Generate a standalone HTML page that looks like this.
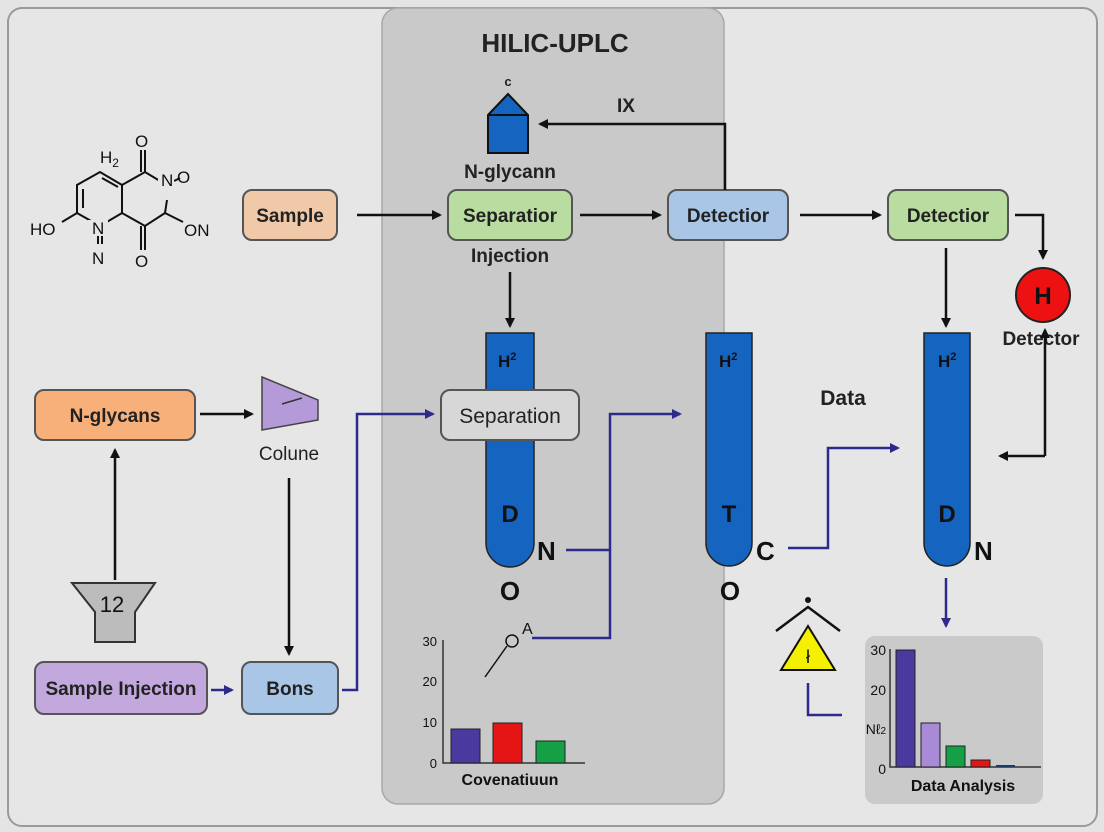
<!DOCTYPE html>
<html><head><meta charset="utf-8"><style>
html,body{margin:0;padding:0;background:#e6e6e6;}
svg{display:block;font-family:"Liberation Sans",sans-serif;}
</style></head><body>
<svg width="1104" height="832" viewBox="0 0 1104 832" xmlns="http://www.w3.org/2000/svg">
<defs>
<marker id="ak" markerWidth="10" markerHeight="10" refX="8" refY="5" orient="auto" markerUnits="userSpaceOnUse"><path d="M0,0 L10,5 L0,10 z" fill="#111"/></marker>
<marker id="ab" markerWidth="10" markerHeight="10" refX="8" refY="5" orient="auto" markerUnits="userSpaceOnUse"><path d="M0,0 L10,5 L0,10 z" fill="#2e2a8c"/></marker>
</defs>
<rect x="0" y="0" width="1104" height="832" fill="#e4e4e4"/>
<rect x="8" y="8" width="1089" height="818" rx="14" fill="#e6e6e6" stroke="#9a9a9a" stroke-width="2"/>
<rect x="382" y="8" width="342" height="796" rx="16" fill="#c9c9c9" stroke="#a8a8a8" stroke-width="1.5"/>
<text x="555" y="52" font-size="26" font-weight="bold" text-anchor="middle" fill="#222">HILIC-UPLC</text>

<!-- molecule -->
<g stroke="#111" stroke-width="2" fill="none">
<path d="M77,213 L77,185 L100,172 L122,185 L122,213 L100,226 Z"/>
<path d="M83,208 L83,189 M102,178 L118,187"/>
<path d="M122,185 L145,172 L160,181 M167,200 L165,213 L145,226 L122,213"/>
<path d="M145,172 L145,150 M141,172 L141,150"/>
<path d="M145,226 L145,250 M141,226 L141,250"/>
<path d="M165,213 L183,222 M77,213 L62,222"/>
<path d="M98,236 L98,244 M102,236 L102,244"/>
<path d="M174,181 L180,178"/>
</g>
<g font-size="17" fill="#111">
<text x="100" y="163">H<tspan font-size="12" dy="4">2</tspan></text>
<text x="135" y="147">O</text>
<rect x="88" y="220" width="20" height="16" fill="#e6e6e6"/>
<rect x="158" y="173" width="16" height="16" fill="#e6e6e6"/>
<text x="161" y="186">N</text>
<text x="177" y="183">O</text>
<text x="30" y="235">HO</text>
<text x="92" y="234">N</text>
<text x="92" y="264">N</text>
<text x="135" y="267">O</text>
<text x="184" y="236">ON</text>
</g>

<!-- boxes -->
<g stroke="#555" stroke-width="2">
<rect x="243" y="190" width="94" height="50" rx="9" fill="#f0c9a8"/>
<rect x="448" y="190" width="124" height="50" rx="9" fill="#b9dca0"/>
<rect x="668" y="190" width="120" height="50" rx="9" fill="#a9c6e6"/>
<rect x="888" y="190" width="120" height="50" rx="9" fill="#b9dca0"/>
<rect x="35" y="390" width="160" height="50" rx="9" fill="#f7b07a"/>
<rect x="35" y="662" width="172" height="52" rx="9" fill="#c3a8de"/>
<rect x="242" y="662" width="96" height="52" rx="9" fill="#a9c6e6"/>
</g>
<g font-size="19" font-weight="bold" fill="#222" text-anchor="middle">
<text x="290" y="222">Sample</text>
<text x="510" y="222">Separatior</text>
<text x="728" y="222">Detectior</text>
<text x="948" y="222">Detectior</text>
<text x="115" y="422">N-glycans</text>
<text x="121" y="695">Sample Injection</text>
<text x="290" y="695">Bons</text>
<text x="510" y="262">Injection</text>
<text x="510" y="178">N-glycann</text>
<text x="626" y="112">IX</text>
<text x="508" y="86" font-size="13">c</text>
<text x="843" y="405" font-size="21">Data</text>
<text x="1041" y="345">Detector</text>
<text x="289" y="460" font-weight="normal">Colune</text>
</g>

<!-- house shape -->
<path d="M488,115 L508,94 L528,115 L528,153 L488,153 Z" fill="#1565c0" stroke="#111" stroke-width="2"/>
<path d="M488,115 L528,115" stroke="#111" stroke-width="2"/>

<!-- tubes -->
<g stroke="#222" stroke-width="1.5" fill="#1565c0">
<path d="M486,333 L534,333 L534,543 A24,24 0 0 1 486,543 Z"/>
<path d="M706,333 L752,333 L752,543 A23,23 0 0 1 706,543 Z"/>
<path d="M924,333 L970,333 L970,543 A23,23 0 0 1 924,543 Z"/>
</g>
<rect x="441" y="390" width="138" height="50" rx="9" fill="#d7d7d7" stroke="#555" stroke-width="2"/>
<text x="510" y="423" font-size="21" text-anchor="middle" fill="#222">Separation</text>
<g font-weight="bold" fill="#111">
<text x="498" y="367" font-size="17">H<tspan font-size="11" dy="-7">2</tspan></text>
<text x="719" y="367" font-size="17">H<tspan font-size="11" dy="-7">2</tspan></text>
<text x="938" y="367" font-size="17">H<tspan font-size="11" dy="-7">2</tspan></text>
<text x="510" y="522" font-size="24" text-anchor="middle">D</text>
<text x="729" y="522" font-size="24" text-anchor="middle">T</text>
<text x="947" y="522" font-size="24" text-anchor="middle">D</text>
<text x="537" y="560" font-size="26">N</text>
<text x="756" y="560" font-size="26">C</text>
<text x="974" y="560" font-size="26">N</text>
<text x="510" y="600" font-size="26" text-anchor="middle">O</text>
<text x="730" y="600" font-size="26" text-anchor="middle">O</text>
</g>

<!-- red circle -->
<circle cx="1043" cy="295" r="27" fill="#ee1111" stroke="#222" stroke-width="2"/>
<text x="1043" y="304" font-size="24" font-weight="bold" text-anchor="middle" fill="#111">H</text>

<!-- wedge -->
<path d="M262,377 L318,400 L318,420 L262,430 Z" fill="#b49ad8" stroke="#444" stroke-width="1.5"/>
<path d="M282,404 L302,398" stroke="#333" stroke-width="1.5"/>
<!-- funnel -->
<path d="M72,583 L155,583 L135,612 L135,642 L95,642 L95,612 Z" fill="#bcbcbc" stroke="#333" stroke-width="2"/>
<text x="112" y="612" font-size="22" text-anchor="middle" fill="#111">12</text>

<!-- black arrows -->
<g stroke="#111" stroke-width="2.5" fill="none" marker-end="url(#ak)">
<path d="M357,215 L440,215"/>
<path d="M580,215 L660,215"/>
<path d="M800,215 L880,215"/>
<path d="M725,190 L725,124 L540,124"/>
<path d="M1015,215 L1043,215 L1043,258"/>
<path d="M510,272 L510,326"/>
<path d="M946,248 L946,326"/>
<path d="M200,414 L252,414"/>
<path d="M115,580 L115,450"/>
<path d="M289,478 L289,654"/>
<path d="M1045,456 L1045,330"/>
<path d="M1045,456 L1000,456"/>
</g>
<!-- blue arrows -->
<g stroke="#2e2a8c" stroke-width="2.5" fill="none">
<path d="M342,690 L357,690 L357,414 L433,414" marker-end="url(#ab)"/>
<path d="M566,550 L610,550 L610,414 L680,414" marker-end="url(#ab)"/>
<path d="M532,638 L610,638 L610,550"/>
<path d="M788,548 L828,548 L828,448 L898,448" marker-end="url(#ab)"/>
<path d="M211,690 L232,690" marker-end="url(#ab)"/>
<path d="M946,578 L946,626" marker-end="url(#ab)"/>
<path d="M808,683 L808,715 L842,715"/>
</g>
<!-- small pin -->
<circle cx="512" cy="641" r="6" fill="none" stroke="#111" stroke-width="1.5"/>
<path d="M507,646 L485,677" stroke="#111" stroke-width="1.5"/>
<text x="522" y="634" font-size="16" fill="#111">A</text>

<!-- warning -->
<circle cx="808" cy="600" r="3" fill="#111"/>
<path d="M776,631 L808,607 L840,631" stroke="#111" stroke-width="2.5" fill="none"/>
<path d="M808,626 L835,670 L781,670 Z" fill="#f4f000" stroke="#111" stroke-width="2"/>
<text x="808" y="663" font-size="18" text-anchor="middle" fill="#111">ł</text>

<!-- center chart -->
<g font-size="13" fill="#111" text-anchor="end">
<text x="437" y="646">30</text><text x="437" y="686">20</text><text x="437" y="727">10</text><text x="437" y="768">0</text>
</g>
<path d="M443,640 L443,763 L585,763" stroke="#333" stroke-width="1.5" fill="none"/>
<rect x="451" y="729" width="29" height="34" fill="#4a3aa0" stroke="#222"/>
<rect x="493" y="723" width="29" height="40" fill="#e51515" stroke="#222"/>
<rect x="536" y="741" width="29" height="22" fill="#15a045" stroke="#222"/>
<text x="510" y="785" font-size="16" font-weight="bold" text-anchor="middle" fill="#111">Covenatiuun</text>

<!-- right chart -->
<rect x="865" y="636" width="178" height="168" rx="10" fill="#cacaca"/>
<g font-size="14" fill="#111" text-anchor="end">
<text x="886" y="655">30</text><text x="886" y="695">20</text><text x="886" y="734">Nℓ<tspan font-size="10">2</tspan></text><text x="886" y="774">0</text>
</g>
<path d="M890,649 L890,767 L1041,767" stroke="#333" stroke-width="1.5" fill="none"/>
<rect x="896" y="650" width="19" height="117" fill="#4a3aa0" stroke="#222"/>
<rect x="921" y="723" width="19" height="44" fill="#a88ad6" stroke="#222"/>
<rect x="946" y="746" width="19" height="21" fill="#15a045" stroke="#222"/>
<rect x="971" y="760" width="19" height="7" fill="#e51515" stroke="#222"/>
<rect x="996" y="765" width="19" height="2" fill="#1a3a6a"/>
<text x="963" y="791" font-size="16" font-weight="bold" text-anchor="middle" fill="#111">Data Analysis</text>
</svg>
</body></html>
